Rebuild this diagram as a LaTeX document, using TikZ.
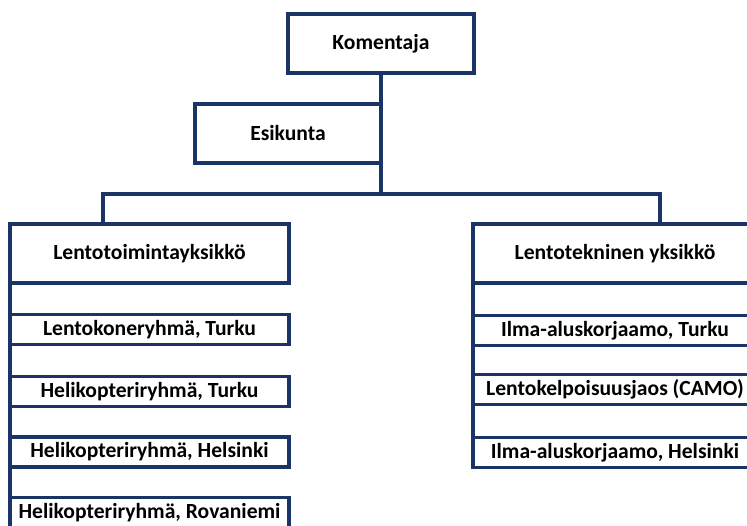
\documentclass[tikz,border=0pt]{standalone}
\usepackage{fontspec}
\setmainfont{Carlito}
\definecolor{navy}{HTML}{1B3468}
\begin{document}
\begin{tikzpicture}[x=1pt,y=-1pt,
  unit/.style={draw=navy,line width=3.1pt,fill=white,inner sep=0pt,outer sep=0pt,
    font=\bfseries\fontsize{21.6}{25}\selectfont,text=black},
  headbox/.style={unit,minimum height=59pt},
  subbox/.style={unit,minimum height=30pt},
  link/.style={draw=navy,line width=3.1pt}]
\clip (0,0) rectangle (747,526);
\useasboundingbox (0,0) rectangle (747,526);
% command level
\node[headbox,minimum width=186pt] (kom) at (381,43.5) {Komentaja};
\node[headbox,minimum width=186pt] (esi) at (288,133.5) {Esikunta};
% units
\node[headbox,minimum width=279pt] (lt) at (149.5,253.5) {Lentotoimintayksikkö};
\node[headbox,minimum width=284pt] (rt) at (615,253.5) {Lentotekninen yksikkö};
% flight operations groups
\node[subbox,minimum width=279pt] (l1) at (149.5,329.5) {Lentokoneryhmä, Turku};
\node[subbox,minimum width=279pt] (l2) at (149.5,391.5) {Helikopteriryhmä, Turku};
\node[subbox,minimum width=279pt] (l3) at (149.5,452) {Helikopteriryhmä, Helsinki};
\node[subbox,minimum width=279pt] (l4) at (149.5,512.5) {Helikopteriryhmä, Rovaniemi};
% maintenance groups
\node[subbox,minimum width=284pt] (r1) at (615,330.5) {Ilma-aluskorjaamo, Turku};
\node[subbox,minimum width=284pt] (r2) at (615,389.5) {Lentokelpoisuusjaos (CAMO)};
\node[subbox,minimum width=284pt] (r3) at (615,452.5) {Ilma-aluskorjaamo, Helsinki};
% tree connectors
\coordinate (bar) at (381,194);
\coordinate (ldrop) at (103,194);
\coordinate (rdrop) at (660,194);
\draw[link] (kom.south) -- (bar);
\draw[link] (ldrop |- lt.north) -- (ldrop) -- (rdrop) -- (rdrop |- rt.north);
\draw[link] (lt.south west) -- (l4.north west);
\draw[link] (rt.south west) -- (r3.north west);
\end{tikzpicture}
\end{document}
